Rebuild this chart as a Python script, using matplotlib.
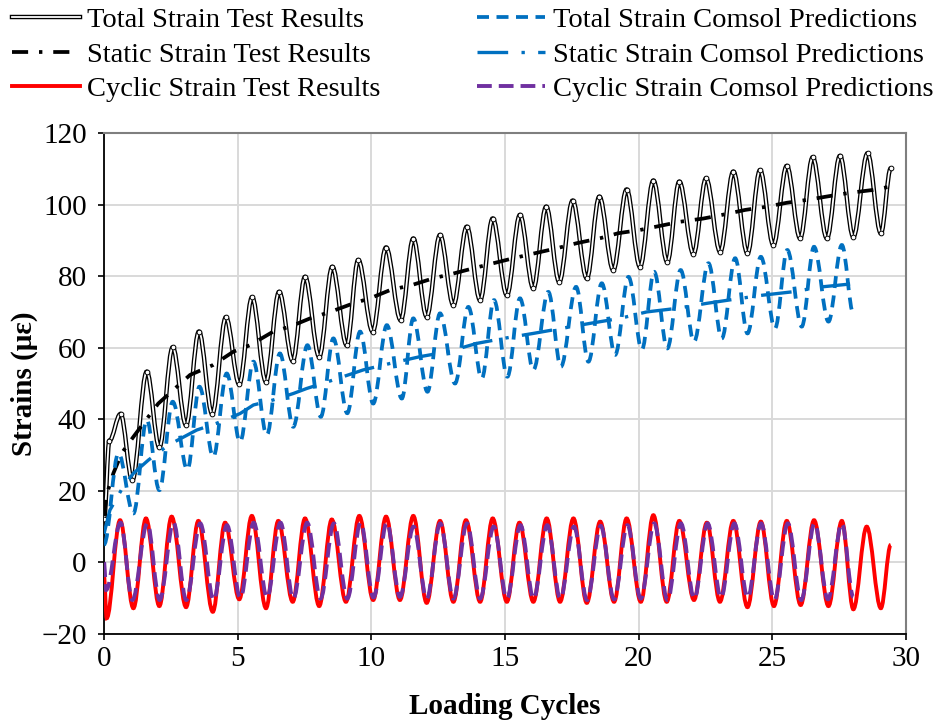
import matplotlib
matplotlib.use("Agg")
import matplotlib.pyplot as plt
from matplotlib.path import Path
from matplotlib.patches import PathPatch
from matplotlib.lines import Line2D

# ---------------- data ----------------
# Total strain, test results: start, then alternating peaks / troughs
total_test_x = [0.0, 0.2, 0.62, 1.06, 1.6, 2.07, 2.57, 3.07, 3.55, 4.05, 4.56, 5.06, 5.54, 6.06,
                6.55, 7.06, 7.52, 8.05, 8.54, 9.08, 9.51, 10.05, 10.55, 11.1, 11.57, 12.07,
                12.57, 13.07, 13.57, 14.07, 14.54, 15.07, 15.56, 16.06, 16.54, 17.03, 17.53,
                18.06, 18.53, 19.05, 19.55, 20.05, 20.55, 21.07, 21.52, 22.05, 22.52, 23.05,
                23.54, 24.07, 24.54, 25.04, 25.54, 26.04, 26.51, 27.04, 27.53, 28.03, 28.56,
                29.06, 29.43]
total_test_y = [12, 34, 41.5, 23.0, 53.3, 32.2, 60.1, 38.4, 64.5, 41.5, 68.5, 49.8, 74.1, 50.5,
                75.6, 56.3, 79.8, 57.5, 82.6, 60.7, 84.5, 64.5, 88.0, 67.7, 90.5, 68.7, 91.5,
                71.9, 93.8, 73.3, 96.1, 74.7, 97.1, 76.6, 99.4, 78.4, 101.1, 79.4, 102.2, 81.7,
                104.2, 82.6, 106.7, 84.0, 106.4, 86.2, 107.3, 86.8, 109.2, 86.4, 109.6, 88.7,
                110.8, 90.6, 113.2, 90.6, 113.6, 91.0, 114.3, 92.0, 110.1]

# Static strain, test results
static_test_x = [0.0, 0.1, 0.35, 0.66, 1.1, 2.03, 3.22, 4.09, 4.84, 5.46, 6.33, 6.96, 7.71, 8.46,
                 9.33, 9.95, 10.7, 11.51, 12.32, 13.0, 13.82, 14.56, 15.31, 16.12, 16.94, 17.68,
                 18.56, 19.24, 20.05, 21.55, 22.42, 23.11, 23.98, 24.79, 25.54, 26.29, 27.16,
                 27.91, 28.78, 29.4]
static_test_y = [13, 19, 24.9, 30.5, 35.1, 44.4, 52.4, 55.2, 58.9, 60.7, 64.5, 65.9, 68.2, 70.0,
                 72.4, 73.8, 76.1, 77.5, 79.4, 80.6, 82.2, 83.6, 85.0, 86.4, 87.8, 89.2, 90.6,
                 92.0, 92.9, 95.2, 96.1, 97.1, 98.5, 99.4, 100.5, 101.3, 102.4, 103.3, 104.1,
                 105.0]

# Cyclic strain, test results
cyclic_test_x = [0.0, 0.1, 0.6, 1.1, 1.57, 2.07, 2.53, 3.07, 3.53, 4.07, 4.53, 5.06, 5.53, 6.06,
                 6.52, 7.06, 7.52, 8.05, 8.52, 9.05, 9.55, 10.07, 10.55, 11.07, 11.57, 12.07,
                 12.57, 13.07, 13.54, 14.07, 14.54, 15.07, 15.54, 16.06, 16.56, 17.06, 17.56,
                 18.06, 18.56, 19.08, 19.55, 20.08, 20.55, 21.05, 21.52, 22.07, 22.55, 23.04,
                 23.54, 24.07, 24.57, 25.06, 25.54, 26.06, 26.56, 27.1, 27.6, 28.03, 28.53,
                 29.06, 29.43]
cyclic_test_y = [-4, -15.6, 11.8, -12.8, 12.3, -12.2, 12.8, -12.5, 11.6, -13.8, 11.1, -10.3,
                 13.0, -12.8, 11.6, -11.0, 12.3, -12.2, 12.0, -11.0, 13.0, -10.5, 12.8, -10.5,
                 13.0, -11.3, 11.6, -11.0, 11.8, -11.0, 12.3, -11.0, 11.1, -11.0, 12.3, -11.0,
                 12.3, -11.3, 11.4, -11.0, 12.3, -11.0, 13.2, -11.0, 11.6, -10.5, 11.1, -11.0,
                 11.6, -12.5, 11.4, -12.2, 11.6, -11.9, 11.8, -12.2, 11.6, -13.1, 10.0, -12.8,
                 4.9]

# Total strain, Comsol predictions
total_comsol_x = [0.0, 0.54, 1.1, 1.6, 2.07, 2.57, 3.12, 3.57, 4.09, 4.59, 5.09, 5.59, 6.09, 6.58,
                  7.08, 7.61, 8.11, 8.58, 9.1, 9.58, 10.07, 10.58, 11.14, 11.57, 12.1, 12.57,
                  13.13, 13.63, 14.13, 14.59, 15.09, 15.56, 16.06, 16.62, 17.09, 17.66, 18.12,
                  18.62, 19.12, 19.62, 20.12, 20.58, 21.07, 21.57, 22.07, 22.61, 23.11, 23.61,
                  24.07, 24.57, 25.1, 25.56, 26.1, 26.56, 27.1, 27.6, 28.03]
total_comsol_y = [5, 30.5, 13.7, 39.8, 20.2, 44.9, 25.9, 49.1, 29.5, 52.8, 33.7, 56.1, 35.6,
                  58.4, 37.9, 60.7, 40.7, 62.6, 41.7, 64.5, 44.4, 66.3, 45.8, 68.2, 47.7, 69.6,
                  50.0, 71.4, 51.4, 73.3, 51.9, 73.8, 53.8, 75.6, 54.7, 77.0, 56.1, 78.0, 58.0,
                  79.8, 59.5, 81.2, 59.8, 81.7, 61.7, 83.6, 62.6, 85.0, 64.0, 85.4, 65.4, 87.3,
                  65.9, 88.2, 67.3, 88.7, 69.6]

# Static strain, Comsol predictions
static_comsol_x = [0.0, 0.22, 0.72, 1.1, 1.66, 2.41, 3.47, 4.22, 5.09, 5.59, 6.33, 7.08, 7.58,
                   8.58, 9.7, 10.7, 11.82, 12.88, 13.94, 14.94, 16.06, 17.12, 18.18, 19.3, 20.3,
                   21.43, 22.55, 23.54, 24.66, 25.73, 26.85, 27.91]
static_comsol_y = [8, 14.6, 21.2, 24.9, 28.6, 32.8, 37.0, 38.9, 41.6, 44.0, 45.4, 47.2, 48.6,
                   51.0, 53.8, 55.6, 57.5, 58.9, 61.2, 62.6, 64.0, 65.4, 66.8, 68.2, 70.0, 71.0,
                   72.4, 73.5, 74.7, 75.6, 77.0, 77.8]

# Cyclic strain, Comsol predictions
cyclic_comsol_x = [0.0, 0.08, 0.62, 1.06, 1.62, 2.08, 2.6, 3.08, 3.6, 4.1, 4.6, 5.1, 5.6, 6.1,
                   6.6, 7.08, 7.6, 8.1, 8.6, 9.1, 9.6, 10.08, 10.58, 11.07, 11.58, 12.07, 12.58,
                   13.07, 13.58, 14.07, 14.58, 15.07, 15.58, 16.07, 16.58, 17.07, 17.58, 18.07,
                   18.58, 19.08, 19.58, 20.08, 20.58, 21.08, 21.58, 22.08, 22.58, 23.08, 23.58,
                   24.08, 24.58, 25.08, 25.58, 26.08, 26.58, 27.08, 27.6, 28.03]
cyclic_comsol_y = [0, -7.7, 11.1, -10.5, 10.9, -10.5, 11.1, -10.5, 10.9, -10.5, 10.4, -9.9, 11.1,
                   -9.8, 11.1, -10.1, 11.1, -10.1, 10.9, -10.1, 11.1, -9.8, 11.1, -9.6, 10.0,
                   -10.1, 10.9, -10.1, 10.9, -10.1, 10.0, -10.1, 10.4, -10.1, 10.4, -10.1, 10.0,
                   -10.5, 10.2, -10.3, 10.4, -10.1, 10.9, -10.5, 10.9, -10.1, 10.9, -9.8, 10.9,
                   -9.8, 10.9, -10.5, 10.9, -10.5, 10.9, -10.3, 10.9, -9.6]

labels = ["Total Strain Test Results", "Static Strain Test Results",
          "Cyclic Strain Test Results", "Total Strain Comsol Predictions",
          "Static Strain Comsol Predictions", "Cyclic Strain Comsol Predictions"]
x_ticks = [0, 5, 10, 15, 20, 25, 30]
y_ticks = [-20, 0, 20, 40, 60, 80, 100, 120]
x_label = "Loading Cycles"
y_label = "Strains (\u03bc\u03b5)"

# ---------------- styling ----------------
FONT = "Liberation Serif"
FS = 21
FS_LEG = 20.5
BLUE = "#0070C0"
PURPLE = "#7030A0"
RED = "#FF0000"

plt.rcParams["font.family"] = [FONT, "DejaVu Serif"]


def smooth_path(xs, ys, k=0.36):
    """Cubic Bezier path through the read extrema (horizontal tangents)."""
    verts = [(xs[0], ys[0])]
    codes = [Path.MOVETO]
    for i in range(len(xs) - 1):
        dx = xs[i + 1] - xs[i]
        verts += [(xs[i] + k * dx, ys[i]), (xs[i + 1] - k * dx, ys[i + 1]),
                  (xs[i + 1], ys[i + 1])]
        codes += [Path.CURVE4] * 3
    return Path(verts, codes)


fig = plt.figure(figsize=(9.41, 7.24), dpi=100)
ax = fig.add_axes([104 / 941, 1 - 634 / 724, (906 - 104) / 941, (634 - 133) / 724])

ax.set_xlim(0, 30)
ax.set_ylim(-20, 120)
ax.set_xticks(x_ticks)
ax.set_yticks(y_ticks)
ax.grid(True, color="#D9D9D9", linewidth=1.4)
ax.set_axisbelow(True)

# total strain test: double line
p = smooth_path(total_test_x, total_test_y)
ax.add_patch(PathPatch(p, fill=False, edgecolor="black", linewidth=3.2, zorder=3))
ax.add_patch(PathPatch(p, fill=False, edgecolor="white", linewidth=1.3, zorder=3.1))
ax.plot(total_test_x, total_test_y, linestyle="none", marker="o", markersize=3.4,
        markerfacecolor="white", markeredgecolor="black", markeredgewidth=0.7, zorder=3.2)

# static strain test
ax.plot(static_test_x, static_test_y, color="black", linewidth=2.7,
        linestyle=(0, (4.3, 2.9, 0.9, 2.9)), zorder=4)

# cyclic strain test
ax.add_patch(PathPatch(smooth_path(cyclic_test_x, cyclic_test_y), fill=False,
                       edgecolor=RED, linewidth=2.8, zorder=5))

# total comsol
ax.add_patch(PathPatch(smooth_path(total_comsol_x, total_comsol_y), fill=False,
                       edgecolor=BLUE, linewidth=2.7, linestyle=(0, (3.2, 2.0)), zorder=6))

# static comsol
ax.plot(static_comsol_x, static_comsol_y, color=BLUE, linewidth=2.4,
        linestyle=(0, (9.2, 4, 1, 4)), zorder=7)

# cyclic comsol
ax.add_patch(PathPatch(smooth_path(cyclic_comsol_x, cyclic_comsol_y), fill=False,
                       edgecolor=PURPLE, linewidth=2.8, linestyle=(0, (3.8, 1.8)), zorder=8))

# spines & ticks
for side in ("top", "right"):
    ax.spines[side].set_color("#7F7F7F")
    ax.spines[side].set_linewidth(1.5)
for side in ("left", "bottom"):
    ax.spines[side].set_color("black")
    ax.spines[side].set_linewidth(1.3)
ax.tick_params(axis="both", direction="out", length=4.5, width=1.2, color="black",
               labelsize=FS, top=False, right=False)
ax.tick_params(axis="y", pad=8)
ax.tick_params(axis="x", pad=4)

ax.set_xlabel(x_label, fontsize=FS, fontweight="bold", labelpad=15)
ax.set_ylabel(y_label, fontsize=FS, fontweight="bold", labelpad=2)

# legend
h_total = (Line2D([], [], color="black", linewidth=3.2),
           Line2D([], [], color="white", linewidth=1.3))
h_static = Line2D([], [], color="black", linewidth=2.7, linestyle=(0, (4.3, 2.9, 0.9, 2.9)))
h_cyc = Line2D([], [], color=RED, linewidth=2.8)
h_tc = Line2D([], [], color=BLUE, linewidth=2.7, linestyle=(0, (3.2, 2.0)))
h_sc = Line2D([], [], color=BLUE, linewidth=2.4, linestyle=(0, (9.2, 4, 1, 4)))
h_cc = Line2D([], [], color=PURPLE, linewidth=2.8, linestyle=(0, (3.8, 1.8)))

fig.legend([h_total, h_static, h_cyc, h_tc, h_sc, h_cc], labels, ncol=2,
           loc="upper left", bbox_to_anchor=(12 / 941, 1 - 7 / 724),
           frameon=False, prop={"family": FONT, "size": FS_LEG},
           handlelength=2.39, handletextpad=0.25, columnspacing=3.4,
           labelspacing=0.31, borderpad=0, borderaxespad=0)

fig.savefig("out.png", dpi=100)
